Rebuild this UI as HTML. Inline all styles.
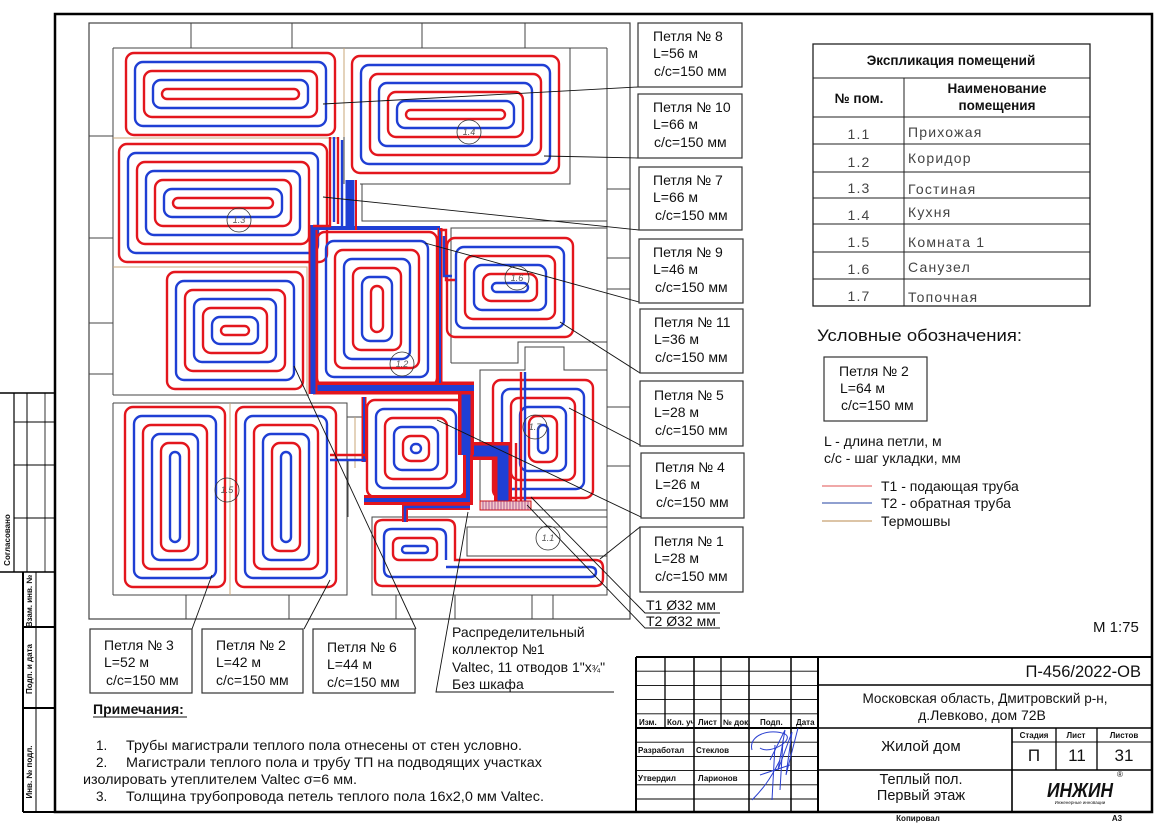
<!DOCTYPE html>
<html><head><meta charset="utf-8">
<style>
html,body{margin:0;padding:0;background:#fff;}
svg{display:block;}
.r{fill:none;stroke:#e3161d;stroke-width:2.4}
.b{fill:none;stroke:#1f3fd4;stroke-width:2.4}
.w{fill:none;stroke:#444;stroke-width:1}
.t{fill:none;stroke:#c9a77a;stroke-width:1}
.l{fill:none;stroke:#111;stroke-width:0.9}
.bx{fill:#fff;stroke:#333;stroke-width:1.2}
text{font-family:"Liberation Sans",Arial,sans-serif;fill:#111}
.f14{font-size:14px}
.nar{font-family:"Liberation Sans Narrow","Liberation Sans",Arial,sans-serif;font-weight:bold;font-size:8px}
.thin{fill:#444;font-size:14px;letter-spacing:1.2px}
.circ{fill:none;stroke:#333;stroke-width:0.8}
.ct{font-size:9px;font-style:italic;fill:#555}
</style></head>
<body>
<svg width="1166" height="824" viewBox="0 0 1166 824" xmlns="http://www.w3.org/2000/svg">
<rect width="1166" height="824" fill="#fff"/>

<!-- Frame -->
<path d="M55,14 H1152 V812 H55 Z" fill="none" stroke="#000" stroke-width="2.5"/>

<!-- Left stamp -->
<g stroke="#000" fill="none">
<line x1="0" y1="393" x2="55" y2="393" stroke-width="1.5"/>
<line x1="14" y1="393" x2="14" y2="572" stroke-width="1.2"/>
<line x1="27" y1="393" x2="27" y2="572" stroke-width="1"/>
<line x1="45" y1="393" x2="45" y2="572" stroke-width="0.8"/>
<line x1="14" y1="422" x2="55" y2="422" stroke-width="1"/>
<line x1="14" y1="465" x2="55" y2="465" stroke-width="1"/>
<line x1="14" y1="518" x2="55" y2="518" stroke-width="1"/>
<line x1="0" y1="572" x2="55" y2="572" stroke-width="1.5"/>
<line x1="23" y1="572" x2="23" y2="812" stroke-width="2"/>
<line x1="36" y1="572" x2="36" y2="812" stroke-width="1"/>
<line x1="23" y1="627" x2="55" y2="627" stroke-width="2"/>
<line x1="23" y1="708" x2="55" y2="708" stroke-width="2"/>
<line x1="23" y1="812" x2="55" y2="812" stroke-width="2"/>
</g>
<text class="nar" transform="translate(10,540) rotate(-90)" text-anchor="middle">Согласовано</text>
<text class="nar" transform="translate(32,601) rotate(-90)" text-anchor="middle">Взам. инв. №</text>
<text class="nar" transform="translate(32,669) rotate(-90)" text-anchor="middle">Подп. и дата</text>
<text class="nar" transform="translate(32,772) rotate(-90)" text-anchor="middle">Инв. № подл.</text>

<!-- ============ PLAN WALLS ============ -->
<rect x="89" y="23" width="541" height="596" fill="none" stroke="#444" stroke-width="1.2"/>
<g class="w">
<path d="M191,23V48 M292,23V48 M422,23V48 M525,23V48"/>
<path d="M113,48H607"/>
<path d="M113,48V395 M113,403V595"/>
<path d="M89,136H113 M89,238H113 M89,323H113 M89,374H113"/>
<path d="M113,395H309"/>
<path d="M113,403H347V595H113"/>
<path d="M347,403V417H362V397"/>
<path d="M186,595V619 M289,595V619 M396,595V619 M455,595V619 M532,595V619 M553,595V619"/>
<rect x="372" y="517" width="235" height="78"/>
<rect x="467" y="527" width="140" height="29"/>
<path d="M607,48V595"/>
<path d="M607,189H630 M607,258H630 M607,289H630 M607,407H630 M607,466H630"/>
<path d="M344,48V184 M360,184H570V48"/>
<path d="M362,184V221H607"/>
<path d="M451,363V228H607 M451,363H518V342H607"/>
<path d="M480,510V370H525V347H564V370H607 M531,510H607"/>
<path d="M348,460V517"/>
</g>
<g class="t">
<path d="M344,48V137"/>
<path d="M113,138H339"/>
<path d="M113,267H307V395"/>
<path d="M230,403V595"/>
<path d="M355,417V468"/>
</g>

<!-- ============ LOOPS ============ -->
<!-- Loop 8 -->
<rect class="r" x="126" y="53" width="209" height="82" rx="8"/>
<rect class="b" x="135" y="62" width="191" height="64" rx="8"/>
<rect class="r" x="144" y="71" width="173" height="46" rx="8"/>
<rect class="b" x="153" y="80" width="155" height="28" rx="8"/>
<rect class="r" x="162" y="89" width="137" height="10" rx="5"/>
<!-- Loop 10 -->
<rect class="r" x="352" y="56" width="207" height="117" rx="8"/>
<rect class="b" x="361" y="65" width="189" height="99" rx="8"/>
<rect class="r" x="370" y="74" width="171" height="81" rx="8"/>
<rect class="b" x="379" y="83" width="153" height="63" rx="8"/>
<rect class="r" x="388" y="92" width="135" height="45" rx="8"/>
<rect class="b" x="397" y="101" width="117" height="27" rx="8"/>
<rect class="r" x="406" y="110" width="99" height="9" rx="4.5"/>
<!-- Loop 7 -->
<rect class="r" x="119" y="144" width="208" height="118" rx="8"/>
<rect class="b" x="128" y="153" width="190" height="100" rx="8"/>
<rect class="r" x="137" y="162" width="172" height="82" rx="8"/>
<rect class="b" x="146" y="171" width="154" height="64" rx="8"/>
<rect class="r" x="155" y="180" width="136" height="46" rx="8"/>
<rect class="b" x="164" y="189" width="118" height="28" rx="8"/>
<rect class="r" x="173" y="198" width="100" height="10" rx="5"/>
<!-- Loop lower-left (6) -->
<rect class="r" x="167" y="272" width="136" height="117" rx="8"/>
<rect class="b" x="176" y="281" width="118" height="99" rx="8"/>
<rect class="r" x="185" y="290" width="100" height="81" rx="8"/>
<rect class="b" x="194" y="299" width="82" height="63" rx="8"/>
<rect class="r" x="203" y="308" width="64" height="45" rx="8"/>
<rect class="b" x="212" y="317" width="46" height="27" rx="8"/>
<rect class="r" x="221" y="326" width="28" height="9" rx="4.5"/>
<!-- Corridor loop -->
<rect class="r" x="317" y="232" width="120" height="154" rx="8"/>
<rect class="b" x="326" y="241" width="102" height="136" rx="8"/>
<rect class="r" x="335" y="250" width="84" height="118" rx="8"/>
<rect class="b" x="344" y="259" width="66" height="100" rx="8"/>
<rect class="r" x="353" y="268" width="48" height="82" rx="8"/>
<rect class="b" x="362" y="277" width="30" height="64" rx="8"/>
<rect class="r" x="371" y="286" width="12" height="46" rx="6"/>
<!-- Loop 1.6 -->
<rect class="r" x="447" y="238" width="126" height="99" rx="8"/>
<rect class="b" x="456" y="247" width="108" height="81" rx="8"/>
<rect class="r" x="465" y="256" width="90" height="63" rx="8"/>
<rect class="b" x="474" y="265" width="72" height="45" rx="8"/>
<rect class="r" x="483" y="274" width="54" height="27" rx="8"/>
<rect class="b" x="492" y="283" width="36" height="9" rx="4.5"/>
<!-- Loop 4 -->
<rect class="r" x="367" y="400" width="98" height="97" rx="8"/>
<rect class="b" x="376" y="409" width="80" height="79" rx="8"/>
<rect class="r" x="385" y="418" width="62" height="61" rx="8"/>
<rect class="b" x="394" y="427" width="44" height="43" rx="8"/>
<rect class="r" x="403" y="436" width="26" height="25" rx="8"/>
<rect class="b" x="411" y="444" width="10" height="9" rx="4.5"/>
<!-- Loop 5 -->
<rect class="r" x="493" y="380" width="100" height="118" rx="8"/>
<rect class="b" x="502" y="389" width="82" height="100" rx="8"/>
<rect class="r" x="511" y="398" width="64" height="82" rx="8"/>
<rect class="b" x="520" y="407" width="46" height="64" rx="8"/>
<rect class="r" x="529" y="416" width="28" height="46" rx="8"/>
<rect class="b" x="538" y="425" width="10" height="28" rx="5"/>
<!-- Loop 3 -->
<rect class="r" x="125" y="407" width="100" height="180" rx="8"/>
<rect class="b" x="134" y="416" width="82" height="162" rx="8"/>
<rect class="r" x="143" y="425" width="64" height="144" rx="8"/>
<rect class="b" x="152" y="434" width="46" height="126" rx="8"/>
<rect class="r" x="161" y="443" width="28" height="108" rx="8"/>
<rect class="b" x="170" y="452" width="10" height="90" rx="5"/>
<!-- Loop 2 -->
<rect class="r" x="236" y="407" width="100" height="180" rx="8"/>
<rect class="b" x="245" y="416" width="82" height="162" rx="8"/>
<rect class="r" x="254" y="425" width="64" height="144" rx="8"/>
<rect class="b" x="263" y="434" width="46" height="126" rx="8"/>
<rect class="r" x="272" y="443" width="28" height="108" rx="8"/>
<rect class="b" x="281" y="452" width="10" height="90" rx="5"/>
<!-- Loop 1 -->
<path class="r" d="M455,560 V528 Q455,520 447,520 H383 Q375,520 375,528 V578 Q375,586 383,586 H595 Q603,586 603,578 V568 Q603,560 595,560 Z"/>
<path class="b" d="M446,560 V537 Q446,529 438,529 H392 Q384,529 384,537 V569 Q384,577 392,577 H590 Q596,577 596,572 Q596,567 590,567 H446"/>
<rect class="r" x="393" y="538" width="44" height="22" rx="6"/>
<rect class="b" x="402" y="546" width="26" height="7" rx="3.5"/>

<!-- ============ TRUNKS ============ -->
<g fill="none" stroke-linejoin="miter">
<path d="M503,503 V451 H466" stroke="#e3161d" stroke-width="18"/>
<path d="M503,503 V451 H466" stroke="#1f3fd4" stroke-width="11"/>
<path d="M466,455 V388" stroke="#e3161d" stroke-width="16"/>
<path d="M466,455 V388" stroke="#1f3fd4" stroke-width="9"/>
<path d="M474,388 H313" stroke="#e3161d" stroke-width="13"/>
<path d="M474,388 H313" stroke="#1f3fd4" stroke-width="6"/>
<path d="M313,394 V225" stroke="#e3161d" stroke-width="9"/>
<path d="M313,394 V225" stroke="#1f3fd4" stroke-width="5"/>
<path d="M311,228 H440" stroke="#1f3fd4" stroke-width="4"/>
<path d="M350,230 V180" stroke="#1f3fd4" stroke-width="9"/>
<path d="M356,230 V180" stroke="#e3161d" stroke-width="2"/>
<path d="M440,228 V383" stroke="#e3161d" stroke-width="5"/>
<path d="M440,228 V383" stroke="#1f3fd4" stroke-width="2"/>
<path d="M468,455 V500 H364" stroke="#e3161d" stroke-width="10"/>
<path d="M468,455 V500 H364" stroke="#1f3fd4" stroke-width="4"/>
<path d="M470,507 H405 V522" stroke="#e3161d" stroke-width="6"/>
<path d="M470,507 H405 V522" stroke="#1f3fd4" stroke-width="2.5"/>
<path d="M364,397 V462" stroke="#e3161d" stroke-width="5"/>
<path d="M364,397 V462" stroke="#1f3fd4" stroke-width="2"/>
</g>
<path class="r" d="M330,137 V226 H313"/>
<path class="b" d="M334,137 V222"/>
<path class="r" d="M338,137 V224"/>
<path class="b" d="M342,140 V230"/>
<path class="r" d="M330,455 H366"/>
<path class="b" d="M330,460 H366"/>
<path class="r" d="M440,230 H446 V280 H455"/>
<path class="b" d="M444,236 V276 H452"/>
<path class="r" d="M521,372 V502"/>
<path class="b" d="M525,372 V502"/>
<path class="r" d="M516,443 V502"/>
<!-- Manifold -->
<rect x="480" y="501" width="51" height="9" fill="#f6caca" stroke="#d01010" stroke-width="1"/>
<path d="M483,501V510 M486,501V510 M489,501V510 M492,501V510 M495,501V510 M498,501V510 M501,501V510 M504,501V510 M507,501V510 M510,501V510 M513,501V510 M516,501V510 M519,501V510 M522,501V510 M525,501V510 M528,501V510" stroke="#8a2a7a" stroke-width="0.7"/>

<!-- Circles -->
<g>
<circle class="circ" cx="239" cy="220" r="12"/><text class="ct" x="239" y="223" text-anchor="middle">1.3</text>
<circle class="circ" cx="469" cy="132" r="12"/><text class="ct" x="469" y="135" text-anchor="middle">1.4</text>
<circle class="circ" cx="517" cy="278" r="12"/><text class="ct" x="517" y="281" text-anchor="middle">1.6</text>
<circle class="circ" cx="402" cy="364" r="12"/><text class="ct" x="402" y="367" text-anchor="middle">1.2</text>
<circle class="circ" cx="227" cy="490" r="12"/><text class="ct" x="227" y="493" text-anchor="middle">1.5</text>
<circle class="circ" cx="535" cy="427" r="12"/><text class="ct" x="535" y="430" text-anchor="middle">1.7</text>
<circle class="circ" cx="548" cy="538" r="12"/><text class="ct" x="548" y="541" text-anchor="middle">1.1</text>
</g>

<!-- Leader lines -->
<g class="l">
<path d="M323,104 L638,87"/>
<path d="M544,156 L638,158"/>
<path d="M323,197 L639,230"/>
<path d="M425,243 L639,302"/>
<path d="M560,322 L640,373"/>
<path d="M569,408 L640,445"/>
<path d="M437,420 L641,517"/>
<path d="M600,559 L640,527"/>
<path d="M531,497 L645,613 H720"/>
<path d="M527,505 L645,628 H720"/>
<path d="M468,512 L436,692 H614"/>
<path d="M294,366 L416,629"/>
<path d="M212,575 L192,629"/>
<path d="M330,580 L304,629"/>
</g>

<!-- Right label boxes -->
<g>
<rect class="bx" x="638" y="23" width="104" height="64"/>
<text class="f14" x="653" y="41">Петля № 8</text><text class="f14" x="653" y="58">L=56 м</text><text class="f14" x="654" y="76">с/с=150 мм</text>
<rect class="bx" x="638" y="94" width="104" height="64"/>
<text class="f14" x="653" y="112">Петля № 10</text><text class="f14" x="653" y="129">L=66 м</text><text class="f14" x="654" y="147">с/с=150 мм</text>
<rect class="bx" x="639" y="167" width="103" height="63"/>
<text class="f14" x="653" y="185">Петля № 7</text><text class="f14" x="653" y="202">L=66 м</text><text class="f14" x="655" y="220">с/с=150 мм</text>
<rect class="bx" x="639" y="239" width="104" height="64"/>
<text class="f14" x="653" y="257">Петля № 9</text><text class="f14" x="653" y="274">L=46 м</text><text class="f14" x="655" y="292">с/с=150 мм</text>
<rect class="bx" x="640" y="309" width="103" height="64"/>
<text class="f14" x="654" y="327">Петля № 11</text><text class="f14" x="654" y="344">L=36 м</text><text class="f14" x="655" y="362">с/с=150 мм</text>
<rect class="bx" x="640" y="381" width="103" height="65"/>
<text class="f14" x="654" y="400">Петля № 5</text><text class="f14" x="654" y="417">L=28 м</text><text class="f14" x="655" y="435">с/с=150 мм</text>
<rect class="bx" x="641" y="453" width="103" height="65"/>
<text class="f14" x="655" y="472">Петля № 4</text><text class="f14" x="655" y="489">L=26 м</text><text class="f14" x="656" y="507">с/с=150 мм</text>
<rect class="bx" x="640" y="527" width="103" height="65"/>
<text class="f14" x="654" y="546">Петля № 1</text><text class="f14" x="654" y="563">L=28 м</text><text class="f14" x="655" y="581">с/с=150 мм</text>
<text class="f14" x="646" y="610">T1 Ø32 мм</text>
<text class="f14" x="646" y="626">T2 Ø32 мм</text>
</g>

<!-- Bottom label boxes -->
<g>
<rect class="bx" x="90" y="629" width="102" height="64"/>
<text class="f14" x="104" y="650">Петля № 3</text><text class="f14" x="104" y="667">L=52 м</text><text class="f14" x="106" y="685">с/с=150 мм</text>
<rect class="bx" x="202" y="629" width="101" height="64"/>
<text class="f14" x="216" y="650">Петля № 2</text><text class="f14" x="216" y="667">L=42 м</text><text class="f14" x="216" y="685">с/с=150 мм</text>
<rect class="bx" x="313" y="629" width="102" height="64"/>
<text class="f14" x="327" y="652">Петля № 6</text><text class="f14" x="327" y="669">L=44 м</text><text class="f14" x="327" y="687">с/с=150 мм</text>
<text class="f14" x="452" y="637">Распределительный</text>
<text class="f14" x="452" y="654">коллектор №1</text>
<text class="f14" x="452" y="672">Valtec, 11 отводов 1"x<tspan font-size="10">¾</tspan>"</text>
<text class="f14" x="452" y="689">Без шкафа</text>
</g>

<!-- Notes -->
<text x="93" y="714" font-size="14" font-weight="bold">Примечания:</text>
<line x1="93" y1="717" x2="187" y2="717" stroke="#111" stroke-width="1"/>
<text x="96" y="750" font-size="13.5">1.</text>
<text x="126" y="750" font-size="13.5" textLength="396" lengthAdjust="spacingAndGlyphs">Трубы магистрали теплого пола отнесены от стен условно.</text>
<text x="96" y="767" font-size="13.5">2.</text>
<text x="126" y="767" font-size="13.5" textLength="416" lengthAdjust="spacingAndGlyphs">Магистрали теплого пола и трубу ТП на подводящих участках</text>
<text x="83" y="784" font-size="13.5" textLength="274" lengthAdjust="spacingAndGlyphs">изолировать утеплителем Valtec σ=6 мм.</text>
<text x="96" y="801" font-size="13.5">3.</text>
<text x="126" y="801" font-size="13.5" textLength="418" lengthAdjust="spacingAndGlyphs">Толщина трубопровода петель теплого пола 16х2,0 мм Valtec.</text>

<!-- Explication table -->
<g stroke="#222" fill="none">
<rect x="813" y="44" width="277" height="262" stroke-width="1.3"/>
<path d="M813,78H1090 M813,117H1090 M813,144H1090 M813,172H1090 M813,198H1090 M813,224H1090 M813,252H1090 M813,279H1090" stroke-width="1"/>
<path d="M904,78V306" stroke-width="1"/>
</g>
<text x="951" y="65" font-size="13.5" font-weight="bold" text-anchor="middle">Экспликация помещений</text>
<text x="859" y="103" font-size="13.5" font-weight="bold" text-anchor="middle">№ пом.</text>
<text x="997" y="93" font-size="13.5" font-weight="bold" text-anchor="middle">Наименование</text>
<text x="997" y="110" font-size="13.5" font-weight="bold" text-anchor="middle">помещения</text>
<g class="thin">
<text x="859" y="139" text-anchor="middle" class="thin" font-size="15">1.1</text><text x="908" y="137" class="thin">Прихожая</text>
<text x="859" y="167" text-anchor="middle" class="thin" font-size="15">1.2</text><text x="908" y="163" class="thin">Коридор</text>
<text x="859" y="193" text-anchor="middle" class="thin" font-size="15">1.3</text><text x="908" y="194" class="thin">Гостиная</text>
<text x="859" y="220" text-anchor="middle" class="thin" font-size="15">1.4</text><text x="908" y="217" class="thin">Кухня</text>
<text x="859" y="247" text-anchor="middle" class="thin" font-size="15">1.5</text><text x="908" y="247" class="thin">Комната  1</text>
<text x="859" y="274" text-anchor="middle" class="thin" font-size="15">1.6</text><text x="908" y="272" class="thin">Санузел</text>
<text x="859" y="301" text-anchor="middle" class="thin" font-size="15">1.7</text><text x="908" y="302" class="thin">Топочная</text>
</g>

<!-- Legend -->
<text x="817" y="341" font-size="17" textLength="205" lengthAdjust="spacingAndGlyphs">Условные обозначения:</text>
<rect class="bx" x="824" y="357" width="103" height="64"/>
<text class="f14" x="839" y="376">Петля № 2</text>
<text class="f14" x="840" y="393">L=64 м</text>
<text class="f14" x="841" y="410">с/с=150 мм</text>
<text class="f14" x="824" y="446">L - длина петли, м</text>
<text class="f14" x="824" y="463">с/с - шаг укладки, мм</text>
<line x1="822" y1="486" x2="872" y2="486" stroke="#e05050" stroke-width="1"/>
<line x1="822" y1="503" x2="872" y2="503" stroke="#2040a0" stroke-width="1"/>
<line x1="822" y1="521" x2="872" y2="521" stroke="#c8a070" stroke-width="1.2"/>
<text class="f14" x="881" y="491">Т1 - подающая труба</text>
<text class="f14" x="881" y="508">Т2 - обратная труба</text>
<text class="f14" x="881" y="526">Термошвы</text>
<text x="1093" y="632" font-size="15">М 1:75</text>

<!-- Title block -->
<g stroke="#000" fill="none">
<path d="M636,657H1152" stroke-width="2"/>
<path d="M636,657V812" stroke-width="2"/>
<path d="M818,657V812" stroke-width="2"/>
<path d="M636,671.2H818 M636,685.4H818 M636,699.6H818 M636,713.8H818 M636,742.2H818 M636,756.4H818 M636,770.6H818 M636,784.8H818 M636,799H818" stroke-width="0.9"/>
<path d="M636,728H818" stroke-width="2"/>
<path d="M665,657V728 M721,657V728" stroke-width="1.3"/>
<path d="M694,657V812 M749,657V812 M791,657V812" stroke-width="1.5"/>
<path d="M818,685H1152 M818,728H1152 M818,770H1152" stroke-width="1.6"/>
<path d="M1012,728V812" stroke-width="1.6"/>
<path d="M1056,728V770 M1097,728V770" stroke-width="1.3"/>
<path d="M1012,742H1152" stroke-width="1"/>
</g>
<text class="nar" x="639" y="725" font-size="7.5">Изм.</text>
<text class="nar" x="667" y="725" font-size="7.5">Кол. уч</text>
<text class="nar" x="698" y="725" font-size="7.5">Лист</text>
<text class="nar" x="723" y="725" font-size="7.5">№ док.</text>
<text class="nar" x="760" y="725" font-size="7.5">Подп.</text>
<text class="nar" x="796" y="725" font-size="7.5">Дата</text>
<text class="nar" x="638" y="753">Разработал</text>
<text class="nar" x="696" y="753">Стеклов</text>
<text class="nar" x="638" y="781">Утвердил</text>
<text class="nar" x="698" y="781">Ларионов</text>
<!-- signature -->
<g fill="none" stroke="#2a3fd0" stroke-width="1">
<path d="M752,750 C748,735 770,728 785,734 C795,740 770,755 760,748"/>
<path d="M770,760 L785,730 L778,770 L792,732 L786,775 L798,728"/>
<path d="M775,745 L772,800 M780,760 C770,780 762,790 752,800"/>
<path d="M783,740 L780,790 M760,775 L790,765"/>
</g>
<text x="1141" y="677" font-size="16.5" text-anchor="end">П-456/2022-ОВ</text>
<text x="985" y="703" font-size="14" text-anchor="middle" textLength="245" lengthAdjust="spacingAndGlyphs">Московская область, Дмитровский р-н,</text>
<text x="982" y="720" font-size="14" text-anchor="middle">д.Левково, дом 72В</text>
<text x="921" y="751" font-size="15" text-anchor="middle">Жилой дом</text>
<text class="nar" x="1034" y="738" text-anchor="middle" font-size="7.5">Стадия</text>
<text class="nar" x="1076" y="738" text-anchor="middle" font-size="7.5">Лист</text>
<text class="nar" x="1124" y="738" text-anchor="middle" font-size="7.5">Листов</text>
<text x="1034" y="761" font-size="17" text-anchor="middle">П</text>
<text x="1077" y="761" font-size="17" text-anchor="middle">11</text>
<text x="1124" y="761" font-size="17" text-anchor="middle">31</text>
<text x="921" y="784" font-size="14.5" text-anchor="middle">Теплый пол.</text>
<text x="921" y="800" font-size="14.5" text-anchor="middle">Первый этаж</text>
<text x="1080" y="797" font-size="20" font-weight="bold" font-style="italic" text-anchor="middle" textLength="66" lengthAdjust="spacingAndGlyphs">ИНЖИН</text>
<text x="1117" y="777" font-size="8" fill="#333">®</text>
<text x="1080" y="804" font-size="4.5" fill="#2a9a3a" text-anchor="middle">Инженерные инновации</text>
<text class="nar" x="918" y="821" text-anchor="middle" font-size="7.5">Копировал</text>
<text class="nar" x="1117" y="821" text-anchor="middle" font-size="7.5">А3</text>
</svg>
</body></html>
